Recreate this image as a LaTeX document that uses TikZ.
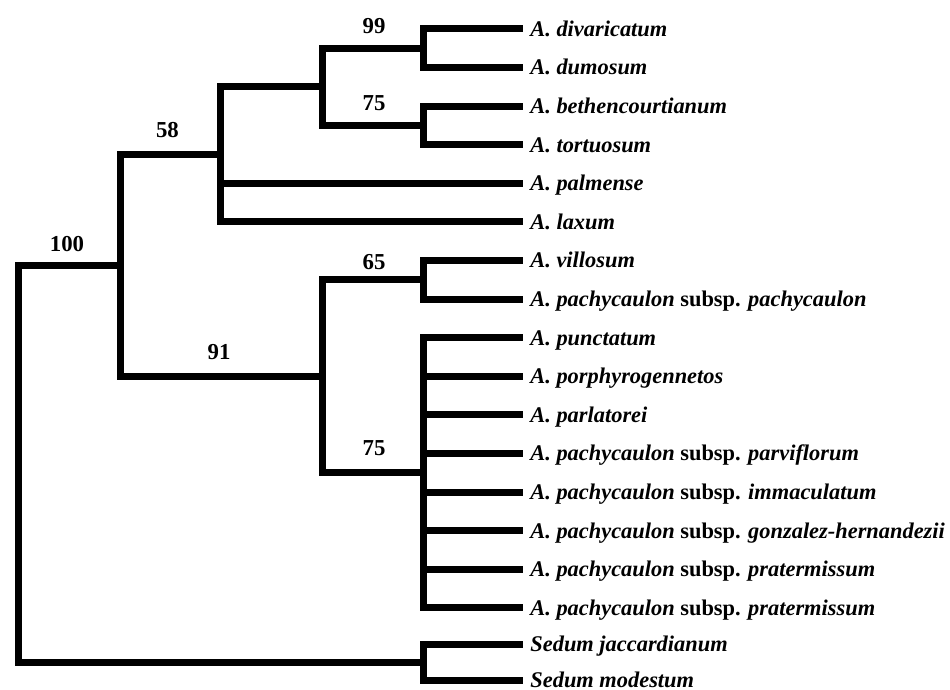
\documentclass[tikz,border=0pt]{standalone}
\usepackage{fontspec}
\setmainfont{Liberation Serif}
\usetikzlibrary{positioning}
\tikzset{
  rama/.style={
    line width=3.5pt,
    line cap=butt,
    line join=miter
  },
  taxon/.style={
    anchor=west,
    inner xsep=3.5pt,
    inner ysep=0pt,
    text height=7.4pt,
    text depth=0pt,
    font=\fontsize{11.2}{13}\selectfont\bfseries\itshape
  },
  apoyo/.style={
    inner sep=0pt,
    font=\fontsize{11.4}{13}\selectfont\bfseries
  }
}
\begin{document}
\begin{tikzpicture}[x=0.5pt,y=-0.5pt]
\useasboundingbox (0,0) rectangle (950,690);
% nodos internos
\coordinate (raiz) at (18,463.8);
\coordinate (n100) at (120,265.4);
\coordinate (n58) at (220,154.5);
\coordinate (nab) at (322,86.9);
\coordinate (n99) at (423,48.3);
\coordinate (n75a) at (423,125.5);
\coordinate (n91) at (322,376.4);
\coordinate (n65) at (423,279.9);
\coordinate (n75b) at (423,472.9);
\coordinate (nsed) at (423,662.3);
% taxones
\node[taxon] (divaricatum) at (523,29) {A. divaricatum};
\node[taxon] (dumosum) at (523,67.6) {A. dumosum};
\node[taxon] (bethencourtianum) at (523,106.2) {A. bethencourtianum};
\node[taxon] (tortuosum) at (523,144.8) {A. tortuosum};
\node[taxon] (palmense) at (523,183.4) {A. palmense};
\node[taxon] (laxum) at (523,222) {A. laxum};
\node[taxon] (villosum) at (523,260.6) {A. villosum};
\node[taxon] (pachycaulon) at (523,299.2) {A. pachycaulon \textup{subsp.} pachycaulon};
\node[taxon] (punctatum) at (523,337.8) {A. punctatum};
\node[taxon] (porphyrogennetos) at (523,376.4) {A. porphyrogennetos};
\node[taxon] (parlatorei) at (523,415) {A. parlatorei};
\node[taxon] (parviflorum) at (523,453.6) {A. pachycaulon \textup{subsp.} parviflorum};
\node[taxon] (immaculatum) at (523,492.2) {A. pachycaulon \textup{subsp.} immaculatum};
\node[taxon] (gonzalez) at (523,530.8) {A. pachycaulon \textup{subsp.} gonzalez-hernandezii};
\node[taxon] (pratermissuma) at (523,569.4) {A. pachycaulon \textup{subsp.} pratermissum};
\node[taxon] (pratermissumb) at (523,608) {A. pachycaulon \textup{subsp.} pratermissum};
\node[taxon] (jaccardianum) at (523,644.5) {Sedum jaccardianum};
\node[taxon] (modestum) at (523,680) {Sedum modestum};
% valores de apoyo
\node[apoyo] (s99) at (374,26.5) {99};
\node[apoyo] (s75a) at (374,103.5) {75};
\node[apoyo] (s58) at (167.5,130.5) {58};
\node[apoyo] (s100) at (67,244) {100};
\node[apoyo] (s65) at (374,262) {65};
\node[apoyo] (s91) at (219,352.5) {91};
\node[apoyo] (s75b) at (374,448.5) {75};
% ramas
\draw[rama] (raiz) |- (n100);
\draw[rama] (raiz) |- (nsed);
\draw[rama] (n100) |- (n58);
\draw[rama] (n100) |- (n91);
\draw[rama] (n58) |- (nab);
\draw[rama] (n58) |- (palmense.west);
\draw[rama] (n58) |- (laxum.west);
\draw[rama] (nab) |- (n99);
\draw[rama] (nab) |- (n75a);
\draw[rama] (n99) |- (divaricatum.west);
\draw[rama] (n99) |- (dumosum.west);
\draw[rama] (n75a) |- (bethencourtianum.west);
\draw[rama] (n75a) |- (tortuosum.west);
\draw[rama] (n91) |- (n65);
\draw[rama] (n91) |- (n75b);
\draw[rama] (n65) |- (villosum.west);
\draw[rama] (n65) |- (pachycaulon.west);
\draw[rama] (n75b) |- (punctatum.west);
\draw[rama] (n75b) |- (porphyrogennetos.west);
\draw[rama] (n75b) |- (parlatorei.west);
\draw[rama] (n75b) |- (parviflorum.west);
\draw[rama] (n75b) |- (immaculatum.west);
\draw[rama] (n75b) |- (gonzalez.west);
\draw[rama] (n75b) |- (pratermissuma.west);
\draw[rama] (n75b) |- (pratermissumb.west);
\draw[rama] (nsed) |- (jaccardianum.west);
\draw[rama] (nsed) |- (modestum.west);
\end{tikzpicture}
\end{document}
